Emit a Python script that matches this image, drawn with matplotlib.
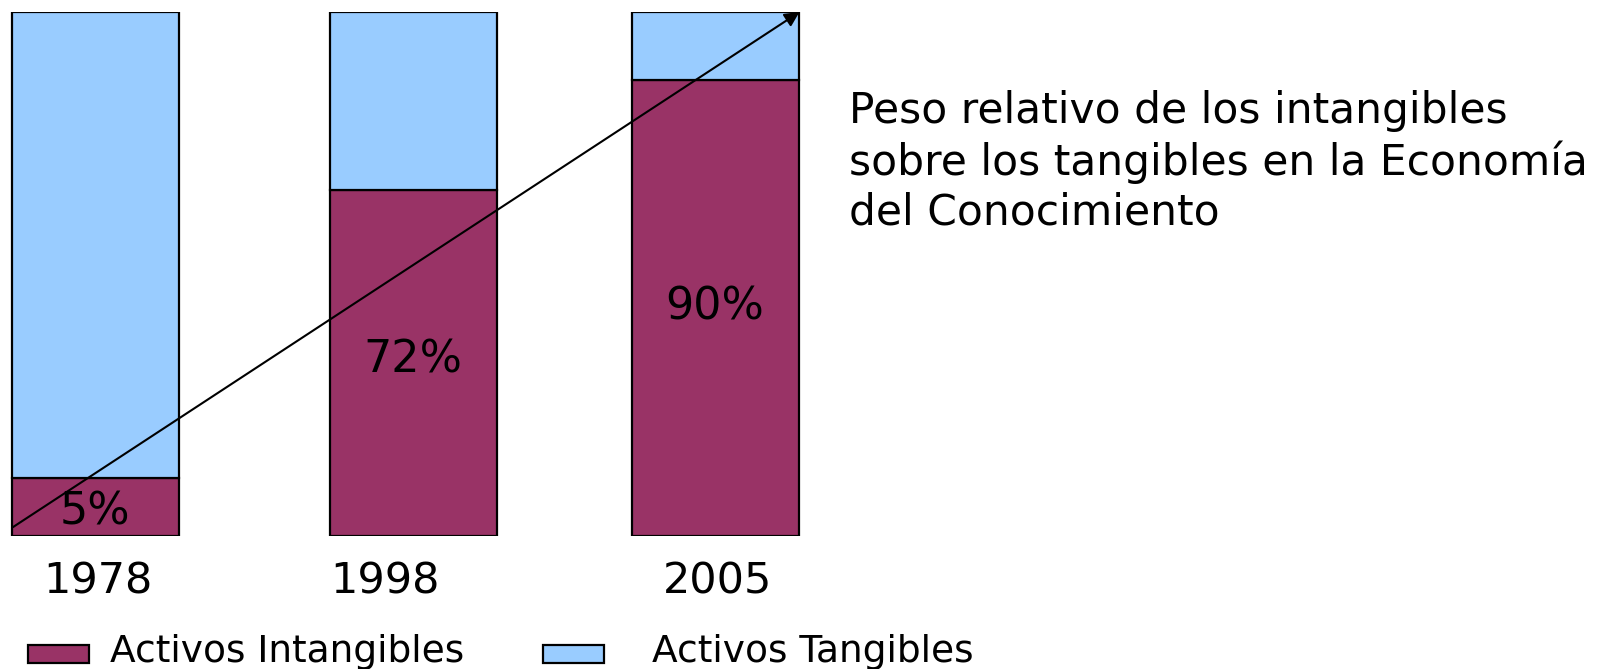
"""Intangible vs tangible assets, stacked bars with trend arrow."""

import matplotlib
matplotlib.use("Agg")
import matplotlib.pyplot as plt
import matplotlib.patches as mpatches

# Data
years = ["1978", "1998", "2005"]
pct_labels = ["5%", "72%", "90%"]
intangibles = [11, 66, 87]   # drawn share of the bar
tangibles = [89, 34, 13]

PURPLE = "#993366"
BLUE = "#99ccff"
W, H = 1606, 669
DPI = 100

# layout (pixels)
BAR_X = [95.5, 413.5, 716]
BAR_W = 167
BAR_TOP, BAR_BOT = 12, 536
YEAR_X = [98, 385, 718]
PCT_POS = [(95, 512), (413, 360), (715, 307)]


def fx(px):
    return px / W


def fy(py):
    return 1 - py / H


fig = plt.figure(figsize=(W / DPI, H / DPI), dpi=DPI)
fig.patch.set_facecolor("white")

ax = fig.add_axes([0, fy(BAR_BOT), 1, (BAR_BOT - BAR_TOP) / H])
ax.set_xlim(0, W)
ax.set_ylim(0, 100)
ax.axis("off")

ax.bar(BAR_X, intangibles, width=BAR_W, color=PURPLE, edgecolor="black", linewidth=1.6)
ax.bar(BAR_X, tangibles, bottom=intangibles, width=BAR_W, color=BLUE,
       edgecolor="black", linewidth=1.6)

# trend arrow from bottom-left of first bar to top-right of last bar
ax.annotate("", xy=(BAR_X[-1] + BAR_W / 2, 100), xytext=(BAR_X[0] - BAR_W / 2 + 1, 1.7),
            arrowprops=dict(arrowstyle="-|>", color="black", lw=1.5,
                            mutation_scale=22, shrinkA=0, shrinkB=0))

for (px, py), lab in zip(PCT_POS, pct_labels):
    fig.text(fx(px), fy(py), lab, fontsize=32, ha="center", va="center", color="black")

for px, yr in zip(YEAR_X, years):
    fig.text(fx(px), fy(581), yr, fontsize=31, ha="center", va="center", color="black")

title = "Peso relativo de los intangibles\nsobre los tangibles en la Economía\ndel Conocimiento"
fig.text(fx(849), fy(90), title, fontsize=30.5, ha="left", va="top",
         linespacing=1.24, color="black")

# legend
for x0, col, lab, tx in [(28, PURPLE, "Activos Intangibles", 110),
                         (543, BLUE, "Activos Tangibles", 652)]:
    rect = mpatches.Rectangle((fx(x0), fy(663)), fx(61), (663 - 645) / H,
                              transform=fig.transFigure, facecolor=col,
                              edgecolor="black", linewidth=1.6)
    fig.add_artist(rect)
    fig.text(fx(tx), fy(652), lab, fontsize=27, ha="left", va="center", color="black")

fig.savefig("out.png", dpi=DPI, facecolor="white")
